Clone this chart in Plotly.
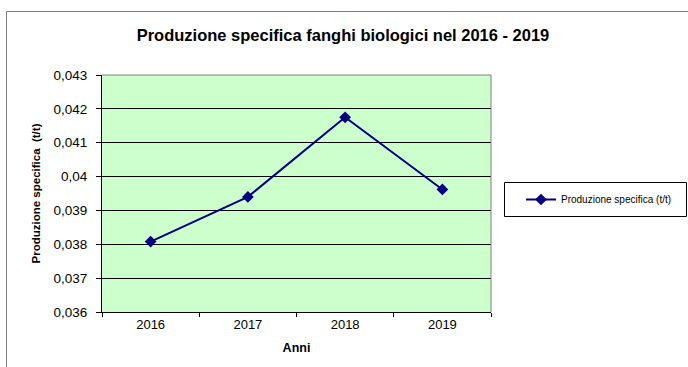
import plotly.graph_objects as go

# Data
anni = ["2016", "2017", "2018", "2019"]
produzione_specifica = [0.03808, 0.03940, 0.04175, 0.03962]
serie_nome = "Produzione specifica (t/t)"
titolo = "Produzione specifica fanghi biologici nel 2016 - 2019"

W, H = 688, 367
L, R, T, B = 102, 197, 75, 55
pw, ph = W - L - R, H - T - B
FONT = "Liberation Sans, Arial, sans-serif"
NAVY = "#000080"


def px_x(px):
    return (px - L) / pw


def px_y(py):
    return (H - B - py) / ph


fig = go.Figure()
fig.add_trace(go.Scatter(
    x=anni, y=produzione_specifica, name=serie_nome, mode="lines+markers",
    line=dict(color=NAVY, width=2),
    marker=dict(symbol="diamond", size=9, color=NAVY),
))

shapes = [
    # plot-area frame (top and right edges)
    dict(type="line", xref="paper", yref="paper", x0=0, x1=1, y0=1, y1=1,
         line=dict(color="#808080", width=1)),
    dict(type="line", xref="paper", yref="paper", x0=1, x1=1, y0=0, y1=1,
         line=dict(color="#808080", width=1)),
    # chart-area border
    dict(type="line", xref="paper", yref="paper", x0=px_x(6.5), x1=px_x(W + 5),
         y0=px_y(11.5), y1=px_y(11.5), line=dict(color="#808080", width=1)),
    dict(type="line", xref="paper", yref="paper", x0=px_x(6.5), x1=px_x(6.5),
         y0=px_y(11.5), y1=px_y(H + 5), line=dict(color="#808080", width=1)),
    # legend box
    dict(type="rect", xref="paper", yref="paper", x0=px_x(504.5), x1=px_x(686.5),
         y0=px_y(216.5), y1=px_y(182.5), line=dict(color="black", width=1)),
]

fig.update_layout(
    width=W, height=H,
    margin=dict(l=L, r=R, t=T, b=B, pad=0, autoexpand=False),
    paper_bgcolor="white", plot_bgcolor="#CCFFCC",
    separators=",.",
    font=dict(family=FONT, size=13, color="black"),
    title=dict(text="<b>" + titolo + "</b>", font=dict(size=16.5, family=FONT),
               x=px_x(343), xref="paper", xanchor="center",
               y=1 - 35 / H, yanchor="middle"),
    showlegend=True,
    legend=dict(x=px_x(521), y=px_y(199.5), xanchor="left", yanchor="middle",
                bgcolor="rgba(0,0,0,0)", borderwidth=0,
                font=dict(size=10, family=FONT), itemwidth=30),
    shapes=shapes,
)

fig.update_xaxes(
    type="category", range=[-0.5, 3.5], tickson="boundaries",
    showline=True, linecolor="black", linewidth=1,
    ticks="outside", ticklen=4, tickcolor="black",
    showgrid=False, zeroline=False,
    tickfont=dict(size=13),
    title=dict(text="<b>Anni</b>", font=dict(size=12.5), standoff=12),
)
fig.update_yaxes(
    range=[0.036, 0.043], dtick=0.001, tick0=0.036,
    showline=True, linecolor="black", linewidth=1,
    ticks="outside", ticklen=5, tickcolor="black",
    showgrid=True, gridcolor="black", gridwidth=1, zeroline=False,
    tickfont=dict(size=13.5), ticklabelstandoff=6,
    title=dict(text="<b>Produzione specifica  (t/t)</b>", font=dict(size=11.5), standoff=10),
)

fig.write_html("out.html")
